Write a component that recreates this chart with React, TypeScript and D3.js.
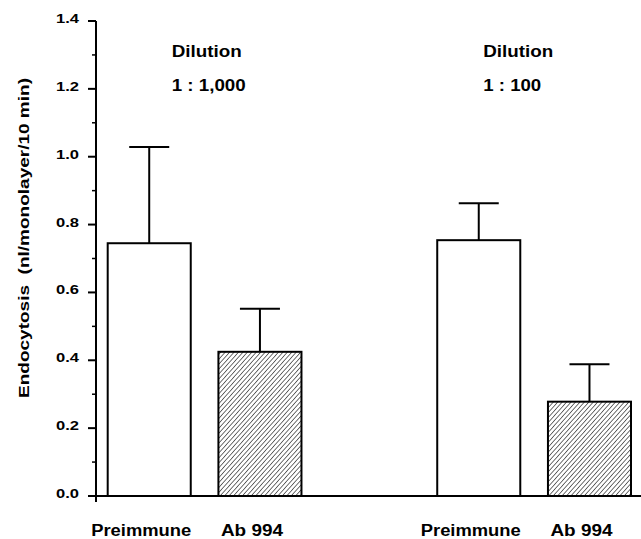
import React from 'react';
import * as d3 from 'd3';

// dilution groups and treatments
const dilutions = ['1 : 1,000', '1 : 100'];
const treatments = ['Preimmune', 'Ab 994'];

// endocytosis means (nl/monolayer/10 min), one per dilution
const preimmuneMeans = [0.745, 0.754];
const ab994Means = [0.425, 0.278];
// upper error (SD) per dilution
const preimmuneErr = [0.284, 0.109];
const ab994Err = [0.127, 0.11];

const W = 641;
const H = 539;
const FONT = '"Liberation Sans", Arial, Helvetica, sans-serif';

const App: React.FC = () => {
  const y = d3.scaleLinear().domain([0, 1.4]).range([496, 21]);
  const xGroup = d3.scaleBand<string>().domain(dilutions).range([107.7, 631]).paddingInner(0.412).paddingOuter(0);
  const xInner = d3.scaleBand<string>().domain(treatments).range([0, xGroup.bandwidth()]).paddingInner(0.25).paddingOuter(0);

  const majorTicks = y.ticks(7);
  const minorTicks = y.ticks(14).filter(t => !majorTicks.some(m => Math.abs(m - t) < 1e-9));

  const bars = dilutions.flatMap((g, i) => [
    { group: g, treat: 'Preimmune', value: preimmuneMeans[i], err: preimmuneErr[i], hatched: false },
    { group: g, treat: 'Ab 994', value: ab994Means[i], err: ab994Err[i], hatched: true },
  ]);

  const axisX = 96;
  const capHalf = 20;
  const dilutionOffsets = [64, 46];
  const labelWidths: Record<string, number> = { Preimmune: 100, 'Ab 994': 62 };

  return (
    <svg width={W} height={H} style={{ position: 'absolute', left: 0, top: 0, background: '#fff' }}>
      <defs>
        <pattern id="hatch" patternUnits="userSpaceOnUse" width={3.3} height={10} patternTransform="rotate(42)">
          <line x1={0} y1={-1} x2={0} y2={11} stroke="#111" strokeWidth={1.2} />
        </pattern>
      </defs>

      {/* baseline */}
      <line x1={axisX} x2={W} y1={y(0)} y2={y(0)} stroke="#000" strokeWidth={2} />

      {/* bars */}
      {bars.map((b, i) => {
        const x0 = (xGroup(b.group) ?? 0) + (xInner(b.treat) ?? 0);
        const bw = xInner.bandwidth();
        const cx = x0 + bw / 2;
        return (
          <g key={i}>
            <line x1={cx} x2={cx} y1={y(b.value)} y2={y(b.value + b.err)} stroke="#000" strokeWidth={2} />
            <line x1={cx - capHalf} x2={cx + capHalf} y1={y(b.value + b.err)} y2={y(b.value + b.err)} stroke="#000" strokeWidth={2} />
            <rect
              x={x0}
              y={y(b.value)}
              width={bw}
              height={y(0) - y(b.value)}
              fill={b.hatched ? 'url(#hatch)' : '#fff'}
              stroke="#000"
              strokeWidth={2}
            />
            <text
              x={cx - 8}
              y={536}
              textAnchor="middle"
              fontFamily={FONT}
              fontWeight="bold"
              fontSize={16}
              textLength={labelWidths[b.treat]}
              lengthAdjust="spacingAndGlyphs"
            >
              {b.treat}
            </text>
          </g>
        );
      })}

      {/* y axis */}
      <line x1={axisX} x2={axisX} y1={y(1.4)} y2={y(0) + 6} stroke="#000" strokeWidth={2} />
      {majorTicks.map(t => (
        <g key={`M${t}`}>
          <line x1={axisX - 8} x2={axisX} y1={y(t)} y2={y(t)} stroke="#000" strokeWidth={2} />
          <text
            x={79}
            y={y(t) + 2}
            textAnchor="end"
            fontFamily={FONT}
            fontWeight="bold"
            fontSize={12.5}
            textLength={23}
            lengthAdjust="spacingAndGlyphs"
          >
            {d3.format('.1f')(t)}
          </text>
        </g>
      ))}
      {minorTicks.map(t => (
        <line key={`m${t}`} x1={axisX - 4} x2={axisX} y1={y(t)} y2={y(t)} stroke="#000" strokeWidth={1.5} />
      ))}

      {/* y title */}
      <text
        transform={`translate(29, ${238}) rotate(-90)`}
        textAnchor="middle"
        fontFamily={FONT}
        fontWeight="bold"
        fontSize={15}
        textLength={320}
        lengthAdjust="spacingAndGlyphs"
        style={{ whiteSpace: 'pre' }}
      >
        {'Endocytosis  (nl/monolayer/10 min)'}
      </text>

      {/* dilution annotations */}
      {dilutions.map((g, i) => {
        const x0 = (xGroup(g) ?? 0) + dilutionOffsets[i];
        return (
          <g key={g} fontFamily={FONT} fontWeight="bold" fontSize={16}>
            <text x={x0} y={56.5} textLength={70} lengthAdjust="spacingAndGlyphs">Dilution</text>
            <text x={x0} y={90.5} textLength={i === 0 ? 74 : 58} lengthAdjust="spacingAndGlyphs">{g}</text>
          </g>
        );
      })}
    </svg>
  );
};

export default App;
